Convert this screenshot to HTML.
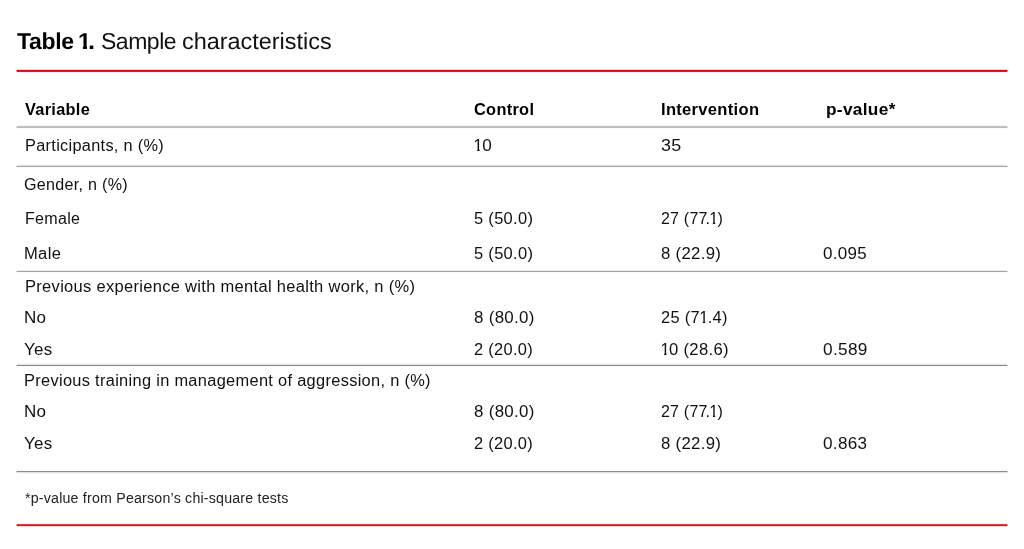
<!DOCTYPE html>
<html><head><meta charset="utf-8"><title>Table 1. Sample characteristics</title>
<style>
html,body{margin:0;padding:0;background:#fff;}
body{width:1024px;height:549px;position:relative;overflow:hidden;font-family:"Liberation Sans",Arial,sans-serif;}
.t{position:absolute;white-space:pre;margin:0;transform-origin:0 0;will-change:transform;}
.r{position:absolute;left:16px;width:992px;height:1px;-webkit-mask:linear-gradient(90deg,rgba(0,0,0,.45) 0 1px,#000 1px calc(100% - 1px),rgba(0,0,0,.45) calc(100% - 1px));mask:linear-gradient(90deg,rgba(0,0,0,.45) 0 1px,#000 1px calc(100% - 1px),rgba(0,0,0,.45) calc(100% - 1px));}
.n1{display:inline-block;margin-left:-0.6px;margin-right:-0.9px;clip-path:polygon(0 0,100% 0,100% 11px,5.9px 11px,5.9px 100%,3.6px 100%,3.6px 11px,0 11px)}
.kd{margin-left:-2px;margin-right:-0.4px}
</style></head><body>
<div class="r" style="top:69px;background:#f8c9cc"></div>
<div class="r" style="top:70px;background:#e00a16"></div>
<div class="r" style="top:71px;background:#e21622"></div>
<div class="r" style="top:72px;background:#fdf0f1"></div>
<div class="r" style="top:125px;background:#f4f4f4"></div>
<div class="r" style="top:126px;background:#c2c2c2"></div>
<div class="r" style="top:127px;background:#bcbcbc"></div>
<div class="r" style="top:128px;background:#fafafa"></div>
<div class="r" style="top:164px;background:#f9f9f9"></div>
<div class="r" style="top:165px;background:#dedede"></div>
<div class="r" style="top:166px;background:#a8a8a8"></div>
<div class="r" style="top:167px;background:#fafafa"></div>
<div class="r" style="top:270px;background:#eaeaea"></div>
<div class="r" style="top:271px;background:#a6a6a6"></div>
<div class="r" style="top:272px;background:#fbfbfb"></div>
<div class="r" style="top:363px;background:#fafafa"></div>
<div class="r" style="top:364px;background:#e4e4e4"></div>
<div class="r" style="top:365px;background:#888888"></div>
<div class="r" style="top:366px;background:#fafafa"></div>
<div class="r" style="top:470px;background:#fafafa"></div>
<div class="r" style="top:471px;background:#8e8e8e"></div>
<div class="r" style="top:472px;background:#e0e0e0"></div>
<div class="r" style="top:473px;background:#fcfcfc"></div>
<div class="r" style="top:523px;background:#fdf0f1"></div>
<div class="r" style="top:524px;background:#e74049"></div>
<div class="r" style="top:525px;background:#e00a16"></div>
<div class="r" style="top:526px;background:#fadadc"></div>
<div class="t" style="text-rendering:geometricPrecision;left:17.00px;top:30px;font-size:23px;line-height:23px;font-weight:700;letter-spacing:-0.321px;transform:scaleX(1.0000);color:#000">Table</div>
<div class="t" style="text-rendering:geometricPrecision;clip-path:polygon(0 0,100% 0,100% 15.6px,8.8px 15.6px,8.8px 100%,4.8px 100%,4.8px 15.6px,0 15.6px);left:78.00px;top:30px;font-size:23px;line-height:23px;font-weight:700;letter-spacing:0.000px;transform:scaleX(1.0166);color:#000">1</div>
<div class="t" style="text-rendering:geometricPrecision;left:88.00px;top:30px;font-size:23px;line-height:23px;font-weight:700;letter-spacing:0.000px;transform:scaleX(1.1046);color:#000">.</div>
<div class="t" style="text-rendering:geometricPrecision;left:101.00px;top:30px;font-size:23px;line-height:23px;font-weight:400;letter-spacing:-0.476px;transform:scaleX(1.0000);color:#111">Sample</div>
<div class="t" style="text-rendering:geometricPrecision;left:182.00px;top:30px;font-size:23px;line-height:23px;font-weight:400;letter-spacing:0.000px;transform:scaleX(1.0181);color:#111">characteristics</div>
<div class="t" style="left:25.00px;top:102px;font-size:16px;line-height:16px;font-weight:700;letter-spacing:0.300px;transform:scaleX(1.0203);color:#000">Variable</div>
<div class="t" style="left:474.00px;top:102px;font-size:16px;line-height:16px;font-weight:700;letter-spacing:0.300px;transform:scaleX(1.0213);color:#000">Control</div>
<div class="t" style="left:661.00px;top:102px;font-size:16px;line-height:16px;font-weight:700;letter-spacing:0.300px;transform:scaleX(1.0328);color:#000">Intervention</div>
<div class="t" style="left:826.00px;top:102px;font-size:16px;line-height:16px;font-weight:700;letter-spacing:0.300px;transform:scaleX(1.0779);color:#000">p-value*</div>
<div class="t" style="left:25.00px;top:138px;font-size:16px;line-height:16px;font-weight:400;letter-spacing:0.300px;transform:scaleX(1.0191);color:#111">Participants, n (%)</div>
<div class="t" style="left:474.00px;top:138px;font-size:16px;line-height:16px;font-weight:400;letter-spacing:0.300px;transform:scaleX(1.0726);color:#111"><span class=n1>1</span>0</div>
<div class="t" style="left:661.00px;top:138px;font-size:16px;line-height:16px;font-weight:400;letter-spacing:0.300px;transform:scaleX(1.1196);color:#111">35</div>
<div class="t" style="left:24.00px;top:177px;font-size:16px;line-height:16px;font-weight:400;letter-spacing:0.300px;transform:scaleX(1.0045);color:#111">Gender, n (%)</div>
<div class="t" style="left:25.00px;top:211px;font-size:16px;line-height:16px;font-weight:400;letter-spacing:0.300px;transform:scaleX(1.0034);color:#111">Female</div>
<div class="t" style="left:474.00px;top:211px;font-size:16px;line-height:16px;font-weight:400;letter-spacing:0.300px;transform:scaleX(1.0291);color:#111">5 (50.0)</div>
<div class="t" style="left:661.00px;top:211px;font-size:16px;line-height:16px;font-weight:400;letter-spacing:0.207px;transform:scaleX(1.0000);color:#111">27 (77<span class=kd>.</span><span class=n1>1</span>)</div>
<div class="t" style="left:24.00px;top:246px;font-size:16px;line-height:16px;font-weight:400;letter-spacing:0.300px;transform:scaleX(1.0362);color:#111">Male</div>
<div class="t" style="left:474.00px;top:246px;font-size:16px;line-height:16px;font-weight:400;letter-spacing:0.300px;transform:scaleX(1.0291);color:#111">5 (50.0)</div>
<div class="t" style="left:661.00px;top:246px;font-size:16px;line-height:16px;font-weight:400;letter-spacing:0.300px;transform:scaleX(1.0469);color:#111">8 (22.9)</div>
<div class="t" style="left:823.00px;top:246px;font-size:16px;line-height:16px;font-weight:400;letter-spacing:0.300px;transform:scaleX(1.0628);color:#111">0.095</div>
<div class="t" style="left:25.00px;top:279px;font-size:16px;line-height:16px;font-weight:400;letter-spacing:0.300px;transform:scaleX(1.0303);color:#111">Previous experience with mental health work, n (%)</div>
<div class="t" style="left:24.00px;top:310px;font-size:16px;line-height:16px;font-weight:400;letter-spacing:0.300px;transform:scaleX(1.0640);color:#111">No</div>
<div class="t" style="left:474.00px;top:310px;font-size:16px;line-height:16px;font-weight:400;letter-spacing:0.300px;transform:scaleX(1.0552);color:#111">8 (80.0)</div>
<div class="t" style="left:661.00px;top:310px;font-size:16px;line-height:16px;font-weight:400;letter-spacing:0.300px;transform:scaleX(1.0226);color:#111">25 (7<span class=n1>1</span>.4)</div>
<div class="t" style="left:24.00px;top:342px;font-size:16px;line-height:16px;font-weight:400;letter-spacing:0.300px;transform:scaleX(1.0559);color:#111">Yes</div>
<div class="t" style="left:474.00px;top:342px;font-size:16px;line-height:16px;font-weight:400;letter-spacing:0.300px;transform:scaleX(1.0270);color:#111">2 (20.0)</div>
<div class="t" style="left:661.00px;top:342px;font-size:16px;line-height:16px;font-weight:400;letter-spacing:0.300px;transform:scaleX(1.0391);color:#111"><span class=n1>1</span>0 (28.6)</div>
<div class="t" style="left:823.00px;top:342px;font-size:16px;line-height:16px;font-weight:400;letter-spacing:0.300px;transform:scaleX(1.0752);color:#111">0.589</div>
<div class="t" style="left:24.00px;top:373px;font-size:16px;line-height:16px;font-weight:400;letter-spacing:0.300px;transform:scaleX(1.0245);color:#111">Previous training in management of aggression, n (%)</div>
<div class="t" style="left:24.00px;top:404px;font-size:16px;line-height:16px;font-weight:400;letter-spacing:0.300px;transform:scaleX(1.0640);color:#111">No</div>
<div class="t" style="left:474.00px;top:404px;font-size:16px;line-height:16px;font-weight:400;letter-spacing:0.300px;transform:scaleX(1.0552);color:#111">8 (80.0)</div>
<div class="t" style="left:661.00px;top:404px;font-size:16px;line-height:16px;font-weight:400;letter-spacing:0.207px;transform:scaleX(1.0000);color:#111">27 (77<span class=kd>.</span><span class=n1>1</span>)</div>
<div class="t" style="left:24.00px;top:436px;font-size:16px;line-height:16px;font-weight:400;letter-spacing:0.300px;transform:scaleX(1.0559);color:#111">Yes</div>
<div class="t" style="left:474.00px;top:436px;font-size:16px;line-height:16px;font-weight:400;letter-spacing:0.300px;transform:scaleX(1.0270);color:#111">2 (20.0)</div>
<div class="t" style="left:661.00px;top:436px;font-size:16px;line-height:16px;font-weight:400;letter-spacing:0.300px;transform:scaleX(1.0469);color:#111">8 (22.9)</div>
<div class="t" style="left:823.00px;top:436px;font-size:16px;line-height:16px;font-weight:400;letter-spacing:0.300px;transform:scaleX(1.0694);color:#111">0.863</div>
<div class="t" style="left:25.00px;top:491px;font-size:14px;line-height:14px;font-weight:400;letter-spacing:0.200px;transform:scaleX(1.0142);color:#222">*p-value from Pearson’s chi-square tests</div>
</body></html>
